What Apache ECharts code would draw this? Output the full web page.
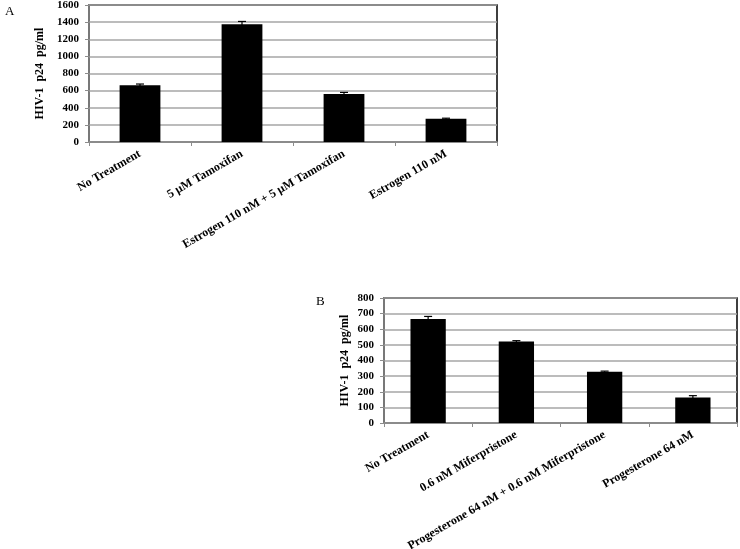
<!DOCTYPE html>
<html>
<head>
<meta charset="utf-8">
<script src="https://cdn.jsdelivr.net/npm/echarts@6/dist/echarts.min.js"></script>
<style>
  html, body { margin: 0; padding: 0; background: #fff; }
  #chart { width: 740px; height: 549px; }
</style>
</head>
<body>
<div id="chart"></div>
<script>
// Panel A - estrogen / tamoxifen
const catsA = ['No Treatment', '5 \u00b5M Tamoxifan', 'Estrogen 110 nM + 5 \u00b5M Tamoxifan', 'Estrogen 110 nM'];
const valsA = [662, 1375, 562, 272];
const errA = [15, 33, 17, 6];
const ticksA = { min: 0, max: 1600, interval: 200 };

// Panel B - progesterone / miferpristone
const catsB = ['No Treatment', '0.6 nM Miferpristone', 'Progesterone 64 nM + 0.6 nM Miferpristone', 'Progesterone 64 nM'];
const valsB = [665, 522, 328, 163];
const errB = [17, 5, 4, 12];
const ticksB = { min: 0, max: 800, interval: 100 };

const FONT = '"Liberation Serif", "Times New Roman", serif';
const gridGray = '#a6a6a6';
const axisGray = '#8c8c8c';

const chart = echarts.init(document.getElementById('chart'));

function xAxisFor(gridIndex, cats) {
    return {
        type: 'category',
        gridIndex: gridIndex,
        data: cats,
        axisLine: { lineStyle: { color: axisGray, width: 1.5 } },
        axisTick: { show: true, length: 4, lineStyle: { color: axisGray } },
        axisLabel: {
            rotate: 30,
            interval: 0,
            margin: 11,
            color: '#000',
            fontFamily: FONT,
            fontWeight: 'bold',
            fontSize: 12
        }
    };
}

function yAxisFor(gridIndex, ticks, gap) {
    return {
        type: 'value',
        gridIndex: gridIndex,
        min: ticks.min,
        max: ticks.max,
        interval: ticks.interval,
        name: 'HIV-1  p24  pg/ml',
        nameLocation: 'middle',
        nameGap: gap,
        nameTextStyle: { color: '#000', fontFamily: FONT, fontWeight: 'bold', fontSize: 12 },
        axisLine: { show: true, lineStyle: { color: axisGray, width: 1.5 } },
        axisTick: { show: true, length: 4, lineStyle: { color: axisGray } },
        axisLabel: {
            color: '#000', fontFamily: FONT, fontWeight: 'bold', fontSize: 11, margin: 10,
            formatter: (v) => String(v)
        },
        splitLine: { show: true, lineStyle: { color: gridGray, width: 1.5 } }
    };
}

// error bar drawn through the axes' own coordinate system
function errorSeries(idx, vals, errs) {
    return {
        type: 'custom',
        xAxisIndex: idx,
        yAxisIndex: idx,
        z: 5,
        data: vals.map((v, i) => [i, v, errs[i]]),
        renderItem: (params, api) => {
            const i = api.value(0);
            const top = api.coord([i, api.value(1) + api.value(2)]);
            const bot = api.coord([i, api.value(1) - api.value(2)]);
            const w = 4;
            const style = { stroke: '#000', lineWidth: 1.2 };
            return {
                type: 'group',
                children: [
                    { type: 'line', shape: { x1: top[0], y1: top[1], x2: bot[0], y2: bot[1] }, style: style },
                    { type: 'line', shape: { x1: top[0] - w, y1: top[1], x2: top[0] + w, y2: top[1] }, style: style }
                ]
            };
        }
    };
}

const option = {
    backgroundColor: '#fff',
    animation: false,
    title: [
        { text: 'A', left: 0, top: 0, textStyle: { fontFamily: FONT, fontWeight: 'normal', fontSize: 13, color: '#000' } },
        { text: 'B', left: 311, top: 290, textStyle: { fontFamily: FONT, fontWeight: 'normal', fontSize: 13, color: '#000' } }
    ],
    grid: [
        { left: 89, right: 243, top: 5, bottom: 407, outerBoundsMode: 'none', show: true, borderColor: '#000', borderWidth: 1.5, backgroundColor: 'transparent' },
        { left: 384, right: 3, top: 298, bottom: 126, outerBoundsMode: 'none', show: true, borderColor: '#000', borderWidth: 1.5, backgroundColor: 'transparent' }
    ],
    xAxis: [xAxisFor(0, catsA), xAxisFor(1, catsB)],
    yAxis: [yAxisFor(0, ticksA, 36), yAxisFor(1, ticksB, 33)],
    series: [
        {
            type: 'bar',
            xAxisIndex: 0,
            yAxisIndex: 0,
            data: valsA,
            barWidth: '40%',
            itemStyle: { color: '#000' }
        },
        errorSeries(0, valsA, errA),
        {
            type: 'bar',
            xAxisIndex: 1,
            yAxisIndex: 1,
            data: valsB,
            barWidth: '40%',
            itemStyle: { color: '#000' }
        },
        errorSeries(1, valsB, errB)
    ]
};

chart.setOption(option);
</script>
</body>
</html>
